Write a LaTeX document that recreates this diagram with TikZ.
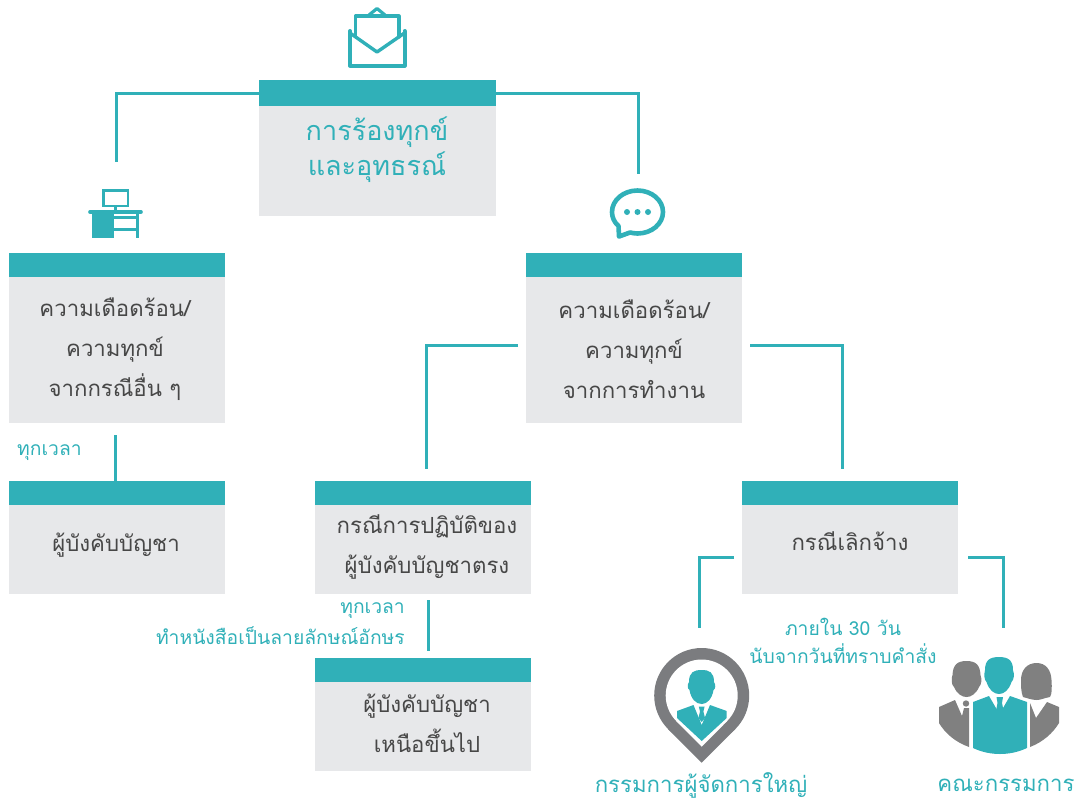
\documentclass[tikz,border=0pt]{standalone}
\usepackage{fontspec}
\newfontfamily\thaifont[Script=Thai]{Loma}
\usetikzlibrary{positioning}
\definecolor{teal1}{HTML}{30B0B8}
\definecolor{pale1}{HTML}{E7E8EA}
\definecolor{ink1}{HTML}{474747}
\definecolor{grey1}{HTML}{808080}
\definecolor{grey2}{HTML}{7B7C7F}
\tikzset{
	boxhead/.style={fill=teal1,inner sep=0pt,outer sep=0pt,minimum width=216pt,minimum height=24pt},
	boxbody/.style={fill=pale1,inner sep=0pt,outer sep=0pt,minimum width=216pt},
	boxtext/.style={font=\thaifont\fontsize{22.2}{40}\selectfont,text=ink1,align=center,inner sep=0pt},
	note/.style={font=\thaifont\fontsize{19.3}{28}\selectfont,text=teal1,inner sep=0pt},
	caption/.style={font=\thaifont\fontsize{22.2}{28}\selectfont,text=teal1,inner sep=0pt},
	icon/.style={inner sep=0pt,outer sep=0pt},
	link/.style={draw=teal1,line width=3pt},
	iconline/.style={draw=teal1,line width=4pt,line join=round,line cap=round},
}
\begin{document}
\begin{tikzpicture}[x=1pt,y=-1pt,node distance=0pt]
	\useasboundingbox (0,0) rectangle (1079,801);

	% boxes
	\node[boxhead,minimum width=237pt,minimum height=26pt] (tophead) at (377.5,93) {};
	\node[boxbody,minimum width=237pt,minimum height=110pt] (topbody) [below=of tophead] {};
	\node[boxhead] (otherhead) at (117,265) {};
	\node[boxbody,minimum height=146pt] (otherbody) [below=of otherhead] {};
	\node[boxhead] (workhead) at (634,265) {};
	\node[boxbody,minimum height=146pt] (workbody) [below=of workhead] {};
	\node[boxhead] (superhead) at (117,493) {};
	\node[boxbody,minimum height=89pt] (superbody) [below=of superhead] {};
	\node[boxhead] (directhead) at (423,493) {};
	\node[boxbody,minimum height=89pt] (directbody) [below=of directhead] {};
	\node[boxhead] (dismisshead) at (850,493) {};
	\node[boxbody,minimum height=89pt] (dismissbody) [below=of dismisshead] {};
	\node[boxhead] (upperhead) at (423,670) {};
	\node[boxbody,minimum height=89pt] (upperbody) [below=of upperhead] {};

	% box texts
	\node[boxtext,text=teal1,font=\thaifont\fontsize{27}{35}\selectfont] (toptext) at (377,150) {การร้องทุกข์\\และอุทธรณ์};
	\node[boxtext] (othertext) at (115,349) {ความเดือดร้อน/\\ความทุกข์\\จากกรณีอื่น ๆ};
	\node[boxtext] (worktext) at (634,349) {ความเดือดร้อน/\\ความทุกข์\\จากการทำงาน};
	\node[boxtext] (supertext) at (116,545) {ผู้บังคับบัญชา};
	\node[boxtext] (directtext) at (427,547) {กรณีการปฏิบัติของ\\ผู้บังคับบัญชาตรง};
	\node[boxtext] (dismisstext) at (850,541) {กรณีเลิกจ้าง};
	\node[boxtext] (uppertext) at (427,723) {ผู้บังคับบัญชา\\เหนือขึ้นไป};

	% icon places
	\node[icon,minimum width=54pt,minimum height=49pt] (desk) at (116,213.5) {};
	\node[icon,minimum width=55pt,minimum height=51pt] (chat) at (638,213.5) {};
	\node[icon,minimum width=95pt,minimum height=115pt] (pin) at (699,705.5) {};
	\node[icon,minimum width=120pt,minimum height=97pt] (team) at (1003,705.5) {};

	% links
	\draw[link,shorten >=27pt] (tophead.west) -| (desk.north);
	\draw[link,shorten >=14pt] (tophead.east) -| (chat.north);
	\draw[link,shorten <=8pt,shorten >=12pt] ([yshift=5pt]workbody.west) -| ([xshift=3pt]directhead.north);
	\draw[link,shorten <=8pt,shorten >=12pt] ([yshift=5pt]workbody.east) -| ([xshift=-8pt]dismisshead.north);
	\draw[link,shorten <=12pt] ([xshift=-2pt]otherbody.south) -- ([xshift=-2pt]superhead.north);
	\draw[link,shorten <=6pt,shorten >=7pt] ([xshift=5pt]directbody.south) -- ([xshift=5pt]upperhead.north);
	\draw[link,shorten <=8pt,shorten >=20pt] ([yshift=-7.5pt]dismissbody.west) -| (pin.north);
	\draw[link,shorten <=10pt,shorten >=29pt] ([yshift=-7.5pt]dismissbody.east) -| (team.north);

	% notes
	\node[note,anchor=west] (note1) at (17,453) {ทุกเวลา};
	\node[note,anchor=east] (note2) at (405,611) {ทุกเวลา};
	\node[note,anchor=east] (note3) at (405,636) {ทำหนังสือเป็นลายลักษณ์อักษร};
	\node[note] (note4) at (843,627) {ภายใน 30 วัน};
	\node[note] (note5) at (843,654) {นับจากวันที่ทราบคำสั่ง};
	\node[caption] (pinname) at (701,785) {กรรมการผู้จัดการใหญ่};
	\node[caption] (teamname) at (1006,785) {คณะกรรมการ};

	% envelope
	\draw[iconline] (350,31) -- (350,65.5) -- (404.5,65.5) -- (404.5,31);
	\draw[iconline,line width=3.4pt] (350,33) -- (377,52) -- (404.5,33);
	\draw[iconline,line width=3.2pt] (355.5,37) -- (355.5,16) -- (399,16) -- (399,37);
	\draw[iconline,line width=3.2pt] (369,15) -- (377,8.5) -- (385,15);

	% desk
	\draw[draw=teal1,line width=2.6pt] (103.2,190.2) rectangle (127.8,205.8);
	\fill[teal1] (114,206) rectangle (117,211);
	\draw[iconline,line width=3.6pt] (90,212) -- (141,212);
	\fill[teal1] (92,213) rectangle (114,238);
	\fill[teal1] (136,213) rectangle (138.5,238);
	\fill[teal1] (114,216) rectangle (137,218.5);
	\fill[teal1] (114,228) rectangle (137,230.5);

	% speech bubble
	\draw[iconline,line width=4.6pt] (618.5,226) .. controls (614,222) and (612,217) .. (612,212)
		.. controls (612,200) and (623.5,190.5) .. (637.5,190.5)
		.. controls (651.5,190.5) and (663,200) .. (663,212)
		.. controls (663,224) and (651.5,233.5) .. (637.5,233.5)
		.. controls (635,233.5) and (632,233) .. (630,232.5) -- (619,236.5) -- cycle;
	\foreach \dotx in {627,637.5,648}
		\fill[teal1] (\dotx,212) circle (3);

	% map pin
	\fill[grey2] (701.7,695.5) circle (47.5);
	\fill[grey2] (668.1,729.1) -- (701.7,762.7) -- (735.3,729.1) -- cycle;
	\fill[white] (701.7,695.5) circle (36);
	\fill[white] (676.2,721) -- (701.7,746.7) -- (727.2,721) -- cycle;
	\fill[teal1] (701.7,670) .. controls (709,670) and (714,672) .. (714,682)
		.. controls (716,685) and (715.5,689) .. (713.5,690)
		.. controls (712,699) and (707,704) .. (701.7,704)
		.. controls (696,704) and (691,699) .. (689.5,690)
		.. controls (687.5,689) and (687,685) .. (689,682)
		.. controls (689,672) and (694,670) .. (701.7,670) -- cycle;
	\fill[teal1] (677,711) -- (693.5,705) -- (701.7,725) -- (710,705) -- (726.7,711) -- (726.7,718) -- (701.7,741) -- (677,718) -- cycle;
	\fill[teal1] (698.8,706.5) -- (704.6,706.5) -- (703.4,711.5) -- (705,718) -- (701.7,722) -- (698.4,718) -- (700,711.5) -- cycle;

	% people
	\fill[grey1] (966.5,661) .. controls (976,661) and (980,665) .. (980.5,675)
		.. controls (982,679) and (981.5,685) .. (979,687)
		.. controls (976,694) and (971,697) .. (966.5,697)
		.. controls (962,697) and (957,694) .. (954,687)
		.. controls (951.5,685) and (951,679) .. (952.5,675)
		.. controls (953,665) and (957,661) .. (966.5,661) -- cycle;
	\fill[grey1] (1036.5,663) .. controls (1046,663) and (1051,670) .. (1051.5,680)
		.. controls (1052,688) and (1052,694) .. (1050,697)
		.. controls (1044,698) and (1041,700) .. (1036.5,700)
		.. controls (1032,700) and (1027,698) .. (1023,697)
		.. controls (1021,692) and (1021,686) .. (1021,680)
		.. controls (1021,670) and (1027,663) .. (1036.5,663) -- cycle;
	\fill[teal1] (999,657) .. controls (1008,657) and (1013,660) .. (1013,670)
		.. controls (1014.5,674) and (1014,680) .. (1011.5,682)
		.. controls (1009,690) and (1004,694) .. (999,694)
		.. controls (994,694) and (989,690) .. (986.5,682)
		.. controls (984,680) and (984,674) .. (985,670)
		.. controls (985,660) and (990,657) .. (999,657) -- cycle;
	\fill[grey1] (939,707) -- (955,700) -- (962,716) -- (964,708) -- (969,708) -- (969,747)
		.. controls (955,742) and (945,733) .. (939,723) -- cycle;
	\fill[grey1] (966,703.5) circle (3.2);
	\fill[teal1] (973,702) -- (989,696) -- (999.5,714) -- (1010,696) -- (1027,702) -- (1027,748)
		.. controls (1010,756) and (990,756) .. (973,748) -- cycle;
	\fill[white] (999.5,714) -- (992,699) -- (1007,699) -- cycle;
	\fill[teal1] (996.5,697) -- (1003,697) -- (1002,703) -- (1004,713) -- (999.7,719) -- (995.5,713) -- (997.5,703) -- cycle;
	\fill[grey1] (1030,703) -- (1036,718) -- (1047,702) -- (1059,707) -- (1059,723)
		.. controls (1053,733) and (1043,742) .. (1030,747) -- cycle;
\end{tikzpicture}
\end{document}
